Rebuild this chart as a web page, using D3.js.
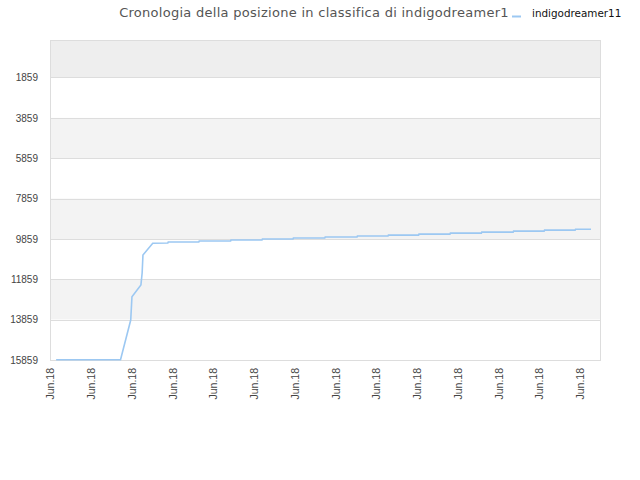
<!DOCTYPE html>
<html>
<head>
<meta charset="utf-8">
<script src="https://cdn.jsdelivr.net/npm/d3@7"></script>
<style>
  body { margin: 0; background: #fff; }
  svg { font-family: "DejaVu Sans", sans-serif; }
</style>
</head>
<body>
<div id="chart"></div>
<script>
const title = "Cronologia della posizione in classifica di indigodreamer1"
const seriesName = "indigodreamer11"
// time in tick units (one tick per label), rank position
const times = [0.15, 1.73, 1.98, 2.01, 2.23, 2.26, 2.28, 2.52, 2.89, 2.9, 3.65, 3.66, 4.43, 4.44, 5.2, 5.21, 5.96, 5.97, 6.74, 6.75, 7.53, 7.54, 8.29, 8.3, 9.04, 9.05, 9.81, 9.82, 10.58, 10.59, 11.36, 11.37, 12.12, 12.13, 12.88, 12.89, 13.27]
const ranks = [15850, 15840, 13877, 12722, 12143, 11548, 10655, 10076, 10061, 10012, 10012, 9962, 9962, 9912, 9912, 9863, 9863, 9813, 9813, 9764, 9764, 9714, 9714, 9670, 9670, 9620, 9620, 9571, 9571, 9521, 9521, 9472, 9472, 9422, 9422, 9380, 9380]
const yTicks = [1859, 3859, 5859, 7859, 9859, 11859, 13859, 15859]
const xTicks = [0, 1, 2, 3, 4, 5, 6, 7, 8, 9, 10, 11, 12, 13]
const xTickLabels = ["Jun.18", "Jun.18", "Jun.18", "Jun.18", "Jun.18", "Jun.18", "Jun.18", "Jun.18", "Jun.18", "Jun.18", "Jun.18", "Jun.18", "Jun.18", "Jun.18"]
const yMin = 1
const yMax = 15859

const margin = { top: 40, right: 40, bottom: 120, left: 50 }
const width = 640 - margin.left - margin.right
const height = 480 - margin.top - margin.bottom

const data = times.map((t, i) => ({ x: t, y: ranks[i] }))

const xScale = d3.scaleLinear().domain([0, 13.49]).range([0, width])
const yScale = d3.scaleLinear().domain([yMin, yMax]).range([0, height])

const root = d3
  .select("#chart")
  .append("svg")
  .attr("width", 640)
  .attr("height", 480)

const svg = root
  .append("g")
  .attr("transform", "translate(" + margin.left + "," + margin.top + ")")

// alternating bands
const bandEdges = [yMin].concat(yTicks)
svg
  .append("g")
  .selectAll("rect")
  .data(d3.pairs(bandEdges))
  .enter()
  .append("rect")
  .attr("x", 0)
  .attr("width", width)
  .attr("y", d => yScale(d[0]))
  .attr("height", d => yScale(d[1]) - yScale(d[0]))
  .attr("fill", (d, i) => (i === 0 ? "#eeeeee" : i % 2 === 0 ? "#f3f3f3" : "#ffffff"))

// grid lines
svg
  .append("g")
  .selectAll("line")
  .data(yTicks)
  .enter()
  .append("line")
  .attr("x1", 0)
  .attr("x2", width)
  .attr("y1", d => Math.round(yScale(d)) + 0.5)
  .attr("y2", d => Math.round(yScale(d)) + 0.5)
  .attr("stroke", "#dddddd")

// frame
svg
  .append("rect")
  .attr("x", 0.5)
  .attr("y", 0.5)
  .attr("width", width)
  .attr("height", height)
  .attr("fill", "none")
  .attr("stroke", "#dddddd")

// y axis
const yAxis = svg
  .append("g")
  .attr("class", "y axis")
  .call(d3.axisLeft(yScale).tickValues(yTicks).tickSize(0).tickPadding(12).tickFormat(d => d))
yAxis.select(".domain").remove()
yAxis.selectAll("text").attr("fill", "#444").style("font-size", "10px")

// x axis
const xAxis = svg
  .append("g")
  .attr("class", "x axis")
  .attr("transform", "translate(0," + height + ")")
  .call(d3.axisBottom(xScale).tickValues(xTicks).tickSize(0).tickFormat((d, i) => xTickLabels[i]))
xAxis.select(".domain").remove()
xAxis
  .selectAll("text")
  .attr("fill", "#444")
  .style("font-size", "10.5px")
  .attr("text-anchor", "end")
  .attr("transform", "rotate(-90)")
  .attr("x", -8)
  .attr("y", 0)
  .attr("dy", "0.35em")

// series line
const line = d3
  .line()
  .x(d => xScale(d.x))
  .y(d => yScale(d.y))
svg
  .append("path")
  .datum(data)
  .attr("fill", "none")
  .attr("stroke", "#9cc8f2")
  .attr("stroke-width", 1.6)
  .attr("d", line)

// title and legend
root
  .append("text")
  .attr("x", 314)
  .attr("y", 17)
  .attr("text-anchor", "middle")
  .attr("fill", "#555")
  .style("font-size", "13px")
  .style("letter-spacing", "0.28px")
  .text(title)

root
  .append("line")
  .attr("x1", 512)
  .attr("x2", 521)
  .attr("y1", 16.5)
  .attr("y2", 16.5)
  .attr("stroke", "#9cc8f2")
  .attr("stroke-width", 2)

root
  .append("text")
  .attr("x", 532)
  .attr("y", 17)
  .attr("fill", "#111")
  .style("font-size", "10.4px")
  .text(seriesName)
</script>
</body>
</html>
